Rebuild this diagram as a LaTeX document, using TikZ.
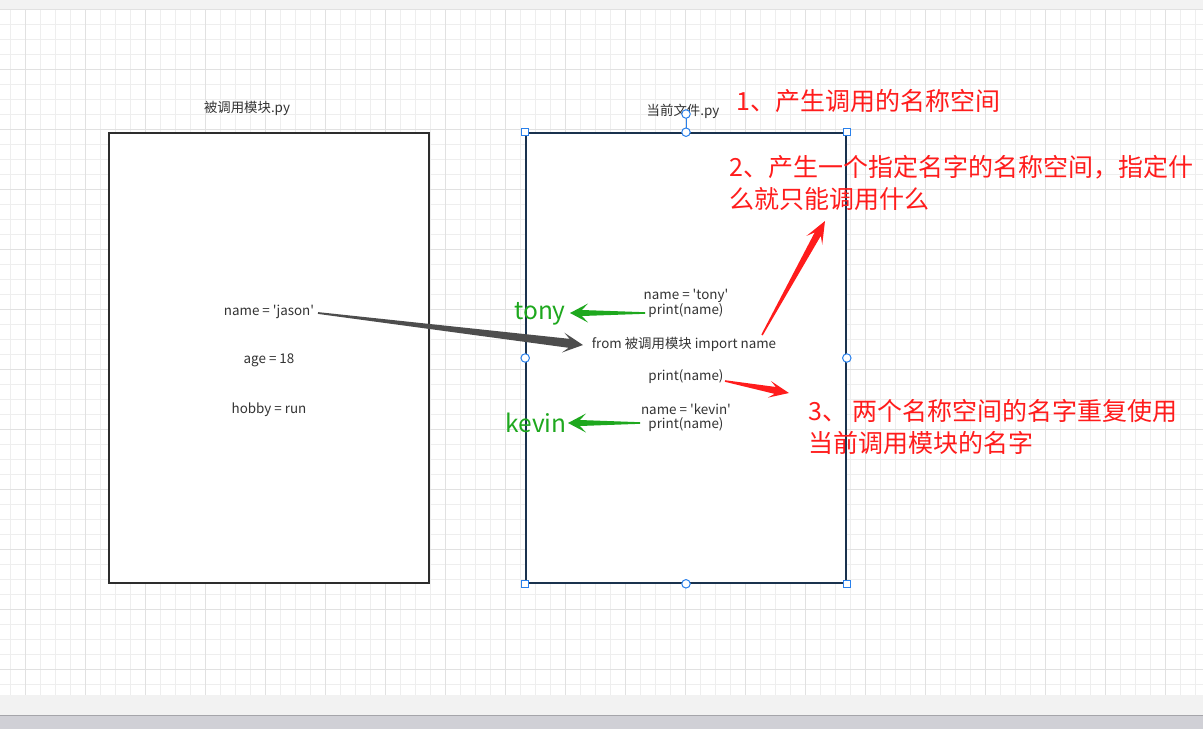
\documentclass[tikz,border=0pt]{standalone}
\usepackage{fontspec}
\newfontfamily\cjkf{Noto Sans CJK SC}
\usetikzlibrary{calc}
\definecolor{gridminor}{RGB}{238,238,238}
\definecolor{gridmajor}{RGB}{225,225,225}
\definecolor{bandgrey}{RGB}{242,242,242}
\definecolor{shadowgrey}{RGB}{208,208,214}
\definecolor{shadowline}{RGB}{165,165,170}
\definecolor{labelgrey}{RGB}{51,51,51}
\definecolor{boxdark}{RGB}{45,45,45}
\definecolor{boxnavy}{RGB}{26,50,78}
\definecolor{handleblue}{RGB}{41,128,235}
\definecolor{arrowgrey}{RGB}{77,77,77}
\definecolor{notegreen}{RGB}{30,168,30}
\definecolor{notered}{RGB}{255,28,28}
\newcommand\taparrow[8]{%
  \coordinate (tpH) at ($(#2)!#6!(#1)$);
  \coordinate (tpN) at ($(#2)!#7!(#1)$);
  \fill[#8] ($(#1)!#3!90:(#2)$) -- ($(tpN)!#4!90:(#2)$) -- ($(tpH)!#5!90:(#2)$) -- (#2)
    -- ($(tpH)!#5!-90:(#2)$) -- ($(tpN)!#4!-90:(#2)$) -- ($(#1)!#3!-90:(#2)$) -- cycle;
}
\begin{document}
\begin{tikzpicture}[x=1pt,y=-1pt,
  modbox/.style={draw=boxdark, line width=1.6pt, fill=white, minimum width=320pt, minimum height=450pt, inner sep=0pt},
  selbox/.style={draw=boxnavy, line width=1.6pt, fill=white, minimum width=320pt, minimum height=450pt, inner sep=0pt},
  lbl/.style={text=labelgrey, font=\cjkf\fontsize{13.4}{16}\selectfont, inner sep=0pt, align=center},
  hsq/.style={draw=handleblue, fill=white, line width=1pt, minimum size=7.5pt, inner sep=0pt},
  hci/.style={draw=handleblue, fill=white, line width=1pt, circle, minimum size=8.5pt, inner sep=0pt},
  greennote/.style={text=notegreen, font=\cjkf\fontsize{24.5}{28}\selectfont, inner sep=0pt},
  rednote/.style={text=notered, font=\cjkf\fontsize{25}{32}\selectfont, inner sep=0pt, align=left, anchor=west}]
\useasboundingbox (0,0) rectangle (1203,729);
\fill[white] (0,0) rectangle (1203,729);
% bands
\fill[bandgrey] (0,0) rectangle (1203,9);
\fill[bandgrey] (0,695) rectangle (1203,715);
\fill[shadowgrey] (0,715) rectangle (1203,729);
\draw[shadowline, line width=1.5pt] (0,715.7) -- (1203,715.7);
% grid
\begin{scope}
\clip (0,9) rectangle (1203,695);
\foreach \i in {0,...,79} \draw[gridminor, line width=0.9pt] ({10.7+15*\i},9) -- ({10.7+15*\i},695);
\foreach \j in {0,...,45} \draw[gridminor, line width=0.9pt] (0,{9.3+15*\j}) -- (1203,{9.3+15*\j});
\foreach \i in {0,...,19} \draw[gridmajor, line width=1pt] ({25.7+60*\i},9) -- ({25.7+60*\i},695);
\foreach \j in {0,...,11} \draw[gridmajor, line width=1pt] (0,{9.3+60*\j}) -- (1203,{9.3+60*\j});
\end{scope}
% boxes
\node[modbox] (modA) at (269,358) {};
\node[selbox] (modB) at (686,358) {};
\node[lbl] (titleA) at (247,108.5) {被调用模块.py};
\node[lbl] (titleB) at (683,111.5) {当前文件.py};
% left contents
\node[lbl] (jason) at (269,311.5) {name = 'jason'};
\node[lbl] (age) at (269,360.5) {age = 18};
\node[lbl] (hobby) at (269,409.5) {hobby = run};
% right contents
\node[lbl] (tonycode) at (686,303.5) {name = 'tony'\\[-1.5pt]print(name)};
\node[lbl] (import) at (684,344.5) {from 被调用模块 import name};
\node[lbl] (print) at (686,376.5) {print(name)};
\node[lbl] (kevincode) at (686,417.5) {name = 'kevin'\\[-1.5pt]print(name)};
\node[greennote] (tony) at (540,314) {tony};
\node[greennote] (kevin) at (536,423) {kevin};
% notes
\node[rednote] (note1) at (736,101) {1、产生调用的名称空间};
\node[rednote] (note2) at (729,183) {2、产生一个指定名字的名称空间，指定什\\么就只能调用什么};
\node[rednote] (note3) at (808,427) {3、 两个名称空间的名字重复使用\\当前调用模块的名字};
% arrow end points
\coordinate (a1s) at (318,313);
\coordinate (a1e) at (583,345);
\coordinate (g1s) at (645,313);
\coordinate (g1e) at (570,313);
\coordinate (g2s) at (640,423);
\coordinate (g2e) at (568,423);
\coordinate (r1s) at (762,335);
\coordinate (r1e) at (825,221);
\coordinate (r2s) at (725,381);
\coordinate (r2e) at (789,393);
\taparrow{a1s}{a1e}{0.9pt}{4.5pt}{10pt}{20pt}{14pt}{arrowgrey}
\taparrow{g1s}{g1e}{0.8pt}{3pt}{9.5pt}{18pt}{12pt}{notegreen}
\taparrow{g2s}{g2e}{0.8pt}{3pt}{9.5pt}{18pt}{12pt}{notegreen}
\taparrow{r1s}{r1e}{0.8pt}{3.5pt}{9pt}{22pt}{15pt}{notered}
\taparrow{r2s}{r2e}{0.8pt}{3.5pt}{8.5pt}{20pt}{14pt}{notered}
% selection handles
\coordinate (rot) at (686,114);
\draw[handleblue, line width=1pt] (rot) -- (modB.north);
\node[hsq] (h1) at (modB.north west) {};
\node[hsq] (h2) at (modB.north east) {};
\node[hsq] (h3) at (modB.south west) {};
\node[hsq] (h4) at (modB.south east) {};
\node[hci] (h5) at (modB.north) {};
\node[hci] (h6) at (modB.south) {};
\node[hci] (h7) at (modB.west) {};
\node[hci] (h8) at (modB.east) {};
\node[hci] (h9) at (rot) {};
\end{tikzpicture}
\end{document}
